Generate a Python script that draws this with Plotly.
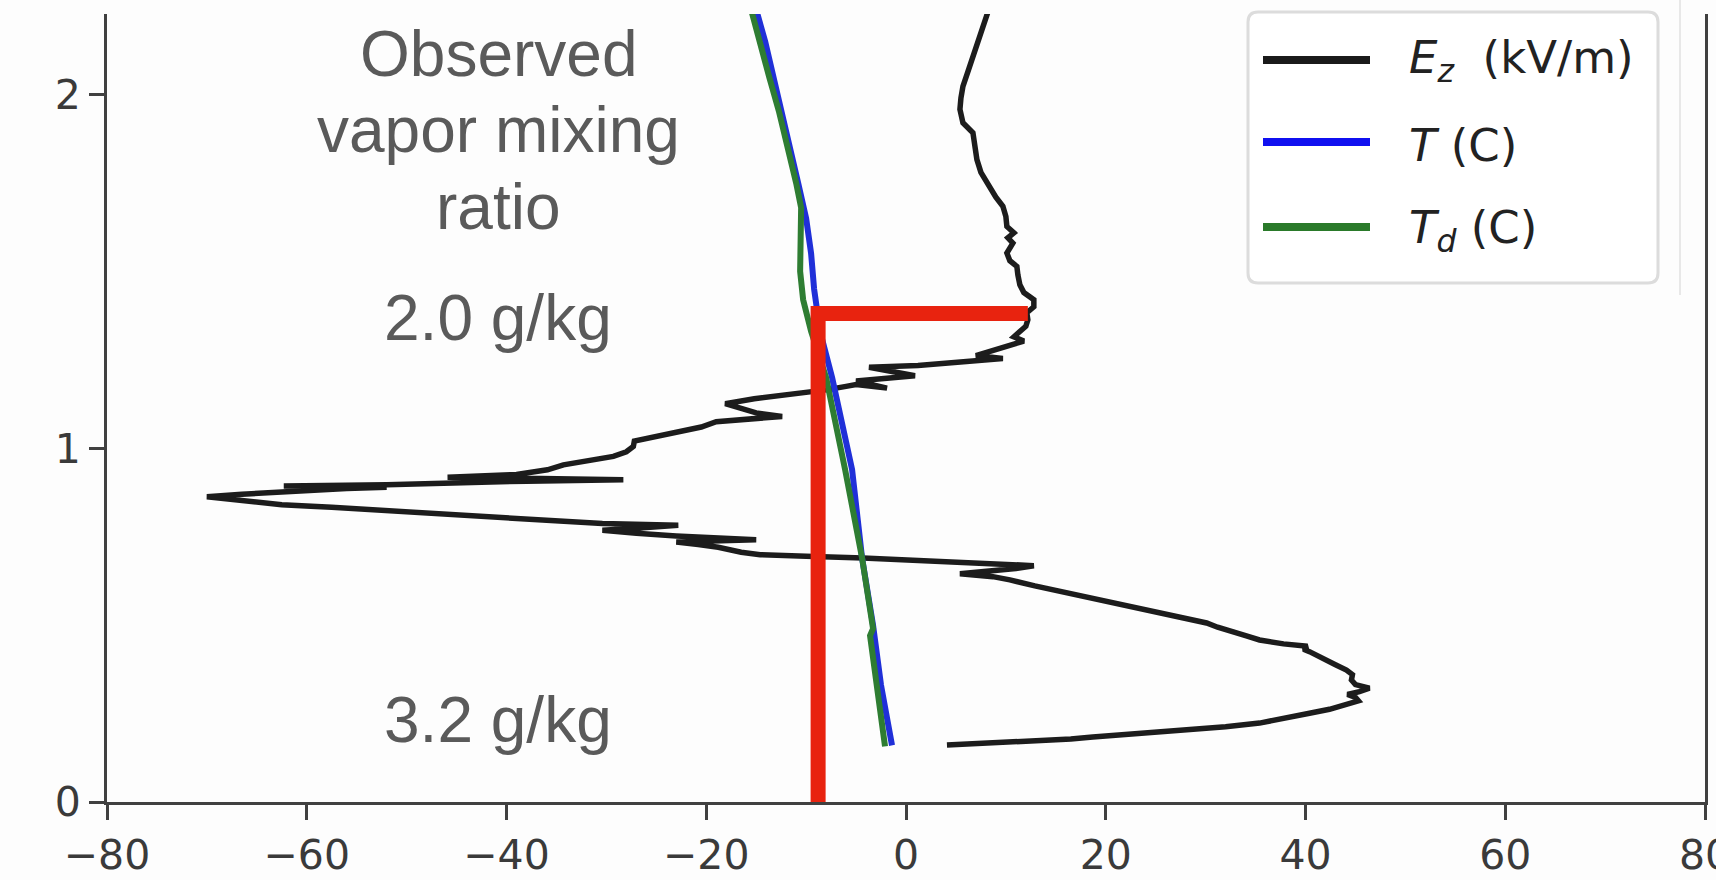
import plotly.graph_objects as go

# ---------------- data ----------------
ez_alt = [0.161, 0.166, 0.172, 0.178, 0.184, 0.194, 0.204, 0.213, 0.223, 0.237,
          0.251, 0.262, 0.274, 0.286, 0.296, 0.304, 0.312, 0.322, 0.332, 0.345,
          0.360, 0.373, 0.388, 0.402, 0.415, 0.425, 0.432, 0.440, 0.447, 0.458,
          0.470, 0.482, 0.494, 0.506, 0.520, 0.534, 0.548, 0.562, 0.578, 0.594,
          0.611, 0.628, 0.637, 0.645, 0.652, 0.660, 0.668, 0.675, 0.683, 0.690,
          0.695, 0.699, 0.706, 0.713, 0.720, 0.728, 0.735, 0.741, 0.746, 0.752,
          0.760, 0.768, 0.774, 0.782, 0.787, 0.798, 0.808, 0.817, 0.826, 0.833,
          0.840, 0.850, 0.863, 0.870, 0.877, 0.886, 0.890, 0.893, 0.897, 0.902,
          0.907, 0.911, 0.914, 0.918, 0.926, 0.939, 0.953, 0.965, 0.977, 0.990,
          1.005, 1.020, 1.033, 1.047, 1.060, 1.075, 1.090, 1.100, 1.115, 1.126,
          1.140, 1.154, 1.165, 1.175, 1.180, 1.170, 1.190, 1.205, 1.229, 1.234,
          1.242, 1.250, 1.254, 1.262, 1.273, 1.290, 1.303, 1.315, 1.328, 1.345,
          1.363, 1.383, 1.400, 1.420, 1.440, 1.462, 1.490, 1.514, 1.530, 1.552,
          1.580, 1.595, 1.609, 1.627, 1.655, 1.684, 1.710, 1.741, 1.780, 1.816,
          1.855, 1.892, 1.920, 1.958, 1.990, 2.023, 2.065, 2.108, 2.140, 2.174,
          2.200, 2.250]
ez_val = [4.1, 8.0, 13.0, 16.5, 18.7, 24.0, 28.7, 32.0, 35.4, 38.3,
          40.4, 42.4, 44.1, 45.3, 45.0, 44.2, 45.4, 46.4, 45.0, 44.6,
          44.7, 44.1, 43.0, 42.1, 41.0, 40.4, 39.8, 40.2, 37.8, 35.4,
          34.0, 32.5, 31.2, 30.1, 27.8, 25.4, 22.9, 20.4, 17.9, 15.4,
          12.9, 10.4, 8.7, 5.4, 8.5, 11.0, 12.8, 8.0, 2.0, -4.3,
          -10.0, -14.6, -16.5, -17.6, -18.8, -20.8, -23.0, -15.0, -19.0, -23.0,
          -27.0, -30.4, -27.0, -22.8, -30.4, -36.5, -41.5, -47.0, -52.6, -57.5,
          -62.5, -66.0, -70.0, -66.5, -62.6, -56.0, -52.0, -62.3, -52.0, -45.9,
          -38.0, -28.3, -38.0, -45.9, -39.0, -35.9, -34.3, -31.5, -29.3, -28.0,
          -27.3, -27.2, -25.0, -22.6, -20.5, -19.0, -12.4, -15.0, -17.0, -18.1,
          -15.2, -10.5, -8.0, -6.0, -5.0, -1.9, -5.0, 0.9, -3.7, 1.2,
          4.5, 8.0, 9.7, 7.0, 8.3, 10.5, 11.8, 10.8, 11.4, 12.0,
          12.2, 12.1, 12.8, 12.8, 11.8, 11.4, 11.2, 11.1, 10.4, 10.1,
          10.7, 10.2, 10.8, 10.1, 10.0, 9.7, 9.0, 8.4, 7.5, 7.1,
          6.9, 6.7, 5.7, 5.4, 5.5, 5.7, 6.2, 6.7, 7.0, 7.4,
          7.8, 8.4]

t_alt = [0.16, 0.33, 0.50, 0.69, 0.94, 1.10, 1.20, 1.33, 1.45, 1.55, 1.65,
         1.75, 1.85, 1.95, 2.05, 2.15, 2.26]
t_val = [-1.4, -2.5, -3.3, -4.4, -5.4, -6.6, -7.4, -8.6, -9.2, -9.5, -10.0,
         -10.8, -11.6, -12.4, -13.3, -14.1, -15.2]

td_alt = [0.157, 0.33, 0.47, 0.49, 0.69, 0.94, 1.10, 1.20, 1.33, 1.42, 1.50,
          1.60, 1.68, 1.75, 1.85, 1.95, 2.05, 2.15, 2.26]
td_val = [-2.1, -2.9, -3.6, -3.3, -4.4, -6.1, -7.2, -8.0, -9.5, -10.3, -10.6,
          -10.6, -10.5, -11.0, -11.8, -12.7, -13.7, -14.6, -15.7]

red_x = [-8.8, -8.8, 12.2]
red_y = [0.0, 1.381, 1.381]

x_ticks = [-80, -60, -40, -20, 0, 20, 40, 60, 80]
y_ticks = [0, 1, 2]

legend_labels = ["<i>E</i><sub><i>z</i></sub>  (kV/m)",
                 "<i>T</i> (C)",
                 "<i>T</i><sub><i>d</i></sub> (C)"]
legend_colors = ["#1a1a1a", "#1010f0", "#2a7a2a"]

text_lines = ["Observed", "vapor mixing", "ratio", "2.0 g/kg", "3.2 g/kg"]

# ---------------- layout geometry (pixels) ----------------
W, H = 1716, 880
ML, MR, MT, MB = 107, 11, 14, 78
PW, PH = W - ML - MR, H - MT - MB
Y_PER_UNIT = 353.75
Y_TOP = PH / Y_PER_UNIT


def pxx(p):
    return (p - ML) / PW


def pxy(p):
    return (H - MB - p) / PH


fig = go.Figure()
fig.add_trace(go.Scatter(x=ez_val, y=ez_alt, mode="lines",
                         line=dict(color="#1c1c1c", width=5.5), name="Ez"))
fig.add_trace(go.Scatter(x=t_val, y=t_alt, mode="lines",
                         line=dict(color="#2030d8", width=6), name="T"))
fig.add_trace(go.Scatter(x=td_val, y=td_alt, mode="lines",
                         line=dict(color="#2e7d32", width=6), name="Td"))
fig.add_trace(go.Scatter(x=red_x, y=red_y, mode="lines",
                         line=dict(color="#e8230f", width=15), name="marker"))

axis_common = dict(showgrid=False, zeroline=False, showline=True,
                   linecolor="#404040", linewidth=3, ticks="outside",
                   ticklen=15, tickwidth=2.5, tickcolor="#404040",
                   automargin=False, ticklabeloverflow="allow",
                   tickfont=dict(family="DejaVu Sans", size=41, color="#3a3a3a"))

fig.update_layout(
    width=W, height=H,
    margin=dict(l=ML, r=MR, t=MT, b=MB),
    paper_bgcolor="#fdfdfd", plot_bgcolor="#fdfdfd",
    showlegend=False,
    xaxis=dict(range=[-80, 80], tickvals=x_ticks, **axis_common),
    yaxis=dict(range=[0, Y_TOP], tickvals=y_ticks, mirror=True, **axis_common),
)

# text annotations (Observed vapor mixing ratio)
text_px_y = [54.5, 129.5, 207, 318, 720]
for txt, py in zip(text_lines, text_px_y):
    fig.add_annotation(x=pxx(498), y=pxy(py), xref="paper", yref="paper",
                       text=txt, showarrow=False, xanchor="center",
                       yanchor="middle", borderpad=0,
                       font=dict(family="Liberation Sans", size=64,
                                 color="#5a5a5a"))

# custom legend box (rounded)
bx0, by0, bx1, by1, r = 1248, 12, 1658, 283, 10
path = (f"M {pxx(bx0 + r)},{pxy(by0)} L {pxx(bx1 - r)},{pxy(by0)} "
        f"Q {pxx(bx1)},{pxy(by0)} {pxx(bx1)},{pxy(by0 + r)} "
        f"L {pxx(bx1)},{pxy(by1 - r)} "
        f"Q {pxx(bx1)},{pxy(by1)} {pxx(bx1 - r)},{pxy(by1)} "
        f"L {pxx(bx0 + r)},{pxy(by1)} "
        f"Q {pxx(bx0)},{pxy(by1)} {pxx(bx0)},{pxy(by1 - r)} "
        f"L {pxx(bx0)},{pxy(by0 + r)} "
        f"Q {pxx(bx0)},{pxy(by0)} {pxx(bx0 + r)},{pxy(by0)} Z")
fig.add_shape(type="path", path=path, xref="paper", yref="paper",
              fillcolor="#ffffff", line=dict(color="#dcdcdc", width=3),
              layer="above")

leg_line_y = [60, 142, 227]
leg_text_y = [60, 146, 230]
for lab, col, ly, ty in zip(legend_labels, legend_colors, leg_line_y, leg_text_y):
    fig.add_shape(type="line", xref="paper", yref="paper",
                  x0=pxx(1263), x1=pxx(1370), y0=pxy(ly), y1=pxy(ly),
                  line=dict(color=col, width=8), layer="above")
    fig.add_annotation(x=pxx(1408), y=pxy(ty), xref="paper", yref="paper",
                       text=lab, showarrow=False, xanchor="left",
                       yanchor="middle", borderpad=0,
                       font=dict(family="DejaVu Sans", size=45, color="#222222"))

# faint image-edge artifact line at right
fig.add_shape(type="line", xref="paper", yref="paper",
              x0=pxx(1680), x1=pxx(1680), y0=pxy(0), y1=pxy(295),
              line=dict(color="#e8e8e8", width=2), layer="below")

fig.write_html("out.html",
               config={"displayModeBar": False},
               post_script="document.body.style.margin='0';"
                           "document.body.style.overflow='hidden';")
